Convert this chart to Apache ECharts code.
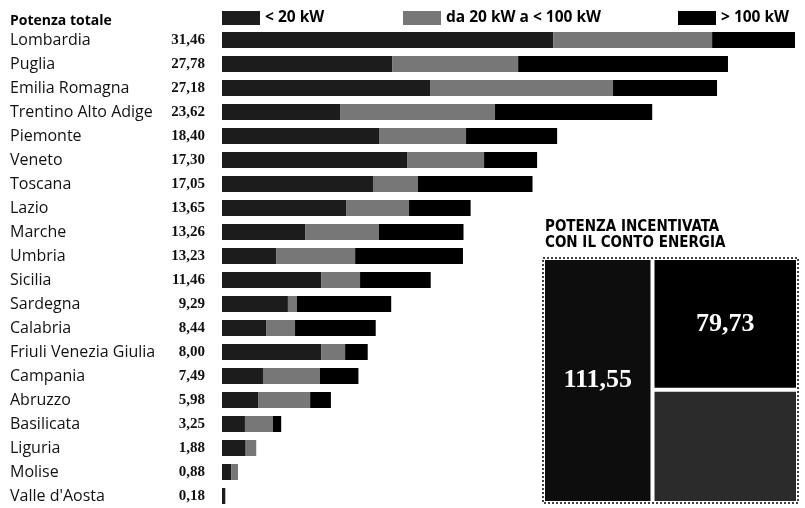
<!DOCTYPE html>
<html>
<head>
<meta charset="utf-8">
<script src="https://cdn.jsdelivr.net/npm/echarts@6/dist/echarts.min.js"></script>
<style>
  html, body { margin: 0; padding: 0; background: #fff; }
  #chart { width: 805px; height: 508px; }
</style>
</head>
<body>
<div id="chart"></div>
<script>
// regioni, dall'alto verso il basso
const regioni = ['Lombardia', 'Puglia', 'Emilia Romagna', 'Trentino Alto Adige', 'Piemonte', 'Veneto',
  'Toscana', 'Lazio', 'Marche', 'Umbria', 'Sicilia', 'Sardegna', 'Calabria', 'Friuli Venezia Giulia',
  'Campania', 'Abruzzo', 'Basilicata', 'Liguria', 'Molise', "Valle d'Aosta"]
// potenza totale (MW)
const totali = [31.46, 27.78, 27.18, 23.62, 18.40, 17.30, 17.05, 13.65, 13.26, 13.23,
  11.46, 9.29, 8.44, 8.00, 7.49, 5.98, 3.25, 1.88, 0.88, 0.18]
// segmenti
const sotto20 = [18.18, 9.34, 11.42, 6.48, 8.62, 10.16, 8.29, 6.81, 4.56, 2.97,
  5.44, 3.62, 2.42, 5.44, 2.25, 1.98, 1.26, 1.30, 0.50, 0.18]
const da20a100 = [8.73, 6.92, 10.05, 8.51, 4.78, 4.23, 2.47, 3.46, 4.06, 4.34,
  2.14, 0.49, 1.59, 1.32, 3.13, 2.86, 1.54, 0.58, 0.38, 0]
const oltre100 = [4.55, 11.52, 5.71, 8.63, 5.00, 2.91, 6.29, 3.38, 4.64, 5.92,
  3.88, 5.18, 4.43, 1.24, 2.11, 1.14, 0.45, 0, 0, 0]
const fasce = ['< 20 kW', 'da 20 kW a < 100 kW', '> 100 kW']
const colori = ['#1c1c1c', '#777777', '#000000']
// riquadro potenza incentivata
const incentivata = [111.55, 79.73, 68.50]
const incentivataColori = ['#0d0d0d', '#000000', '#2b2b2b']
const incentivataEtichetta = [true, true, false]

const fmt = v => v.toFixed(2).replace('.', ',')
const sans = 'Open Sans'
const serif = 'Liberation Serif'

const chart = echarts.init(document.getElementById('chart'))

const legendBase = (name, left) => ({
  data: [name],
  left: left,
  top: 5,
  itemWidth: 38,
  itemHeight: 14,
  itemGap: 0,
  icon: 'rect',
  selectedMode: false,
  textStyle: { fontFamily: sans, fontWeight: 'bold', fontSize: 15.5, color: '#000', padding: [0, 0, 0, 0] }
})

const option = {
  animation: false,
  backgroundColor: '#fff',
  title: [{
    text: 'Potenza totale',
    left: 5, top: 9,
    textStyle: { fontFamily: sans, fontWeight: 'bold', fontSize: 14, color: '#000' }
  }, {
    text: 'POTENZA INCENTIVATA\nCON IL CONTO ENERGIA',
    left: 540, top: 214,
    textStyle: { fontFamily: 'DejaVu Sans Condensed', fontWeight: 'bold', fontSize: 15, lineHeight: 16, color: '#000' }
  }],
  legend: [legendBase(fasce[0], 217), legendBase(fasce[1], 398), legendBase(fasce[2], 673)],
  grid: { left: 222, right: 10, top: 28, height: 481 },
  xAxis: { type: 'value', min: 0, max: 31.46, show: false },
  yAxis: [{
    type: 'category',
    data: regioni,
    inverse: true,
    axisLine: { show: false },
    axisTick: { show: false },
    axisLabel: { align: 'left', margin: 212, fontFamily: sans, fontSize: 16, color: '#111' }
  }, {
    type: 'category',
    position: 'left',
    data: totali.map(fmt),
    inverse: true,
    axisLine: { show: false },
    axisTick: { show: false },
    axisLabel: { margin: 17, fontFamily: serif, fontWeight: 'bold', fontSize: 15, color: '#111' }
  }],
  graphic: [{
    type: 'rect',
    shape: { x: 543, y: 258, width: 255, height: 245 },
    style: { fill: 'none', stroke: '#000', lineWidth: 1.5, lineDash: [2, 2] },
    silent: true
  }],
  series: [
    ...[sotto20, da20a100, oltre100].map((d, i) => ({
      name: fasce[i],
      type: 'bar',
      stack: 'tot',
      yAxisIndex: 0,
      barWidth: 16,
      data: d,
      itemStyle: { color: colori[i] }
    })),
    {
      type: 'treemap',
      left: 545, top: 260, width: 251, height: 241,
      roam: false,
      nodeClick: false,
      squareRatio: 0.5,
      breadcrumb: { show: false },
      itemStyle: { gapWidth: 4, borderWidth: 0, borderColor: '#fff' },
      levels: [{ itemStyle: { gapWidth: 4, borderWidth: 0, borderColor: '#fff' } }],
      label: {
        show: true,
        position: 'inside',
        align: 'center',
        verticalAlign: 'middle',
        fontFamily: serif,
        fontWeight: 'bold',
        fontSize: 26,
        color: '#fff',
        formatter: p => fmt(p.value)
      },
      data: incentivata.map((v, i) => ({
        name: 'n' + i,
        value: v,
        itemStyle: { color: incentivataColori[i] },
        label: { show: incentivataEtichetta[i] }
      }))
    }
  ]
}

chart.setOption(option)
</script>
</body>
</html>
